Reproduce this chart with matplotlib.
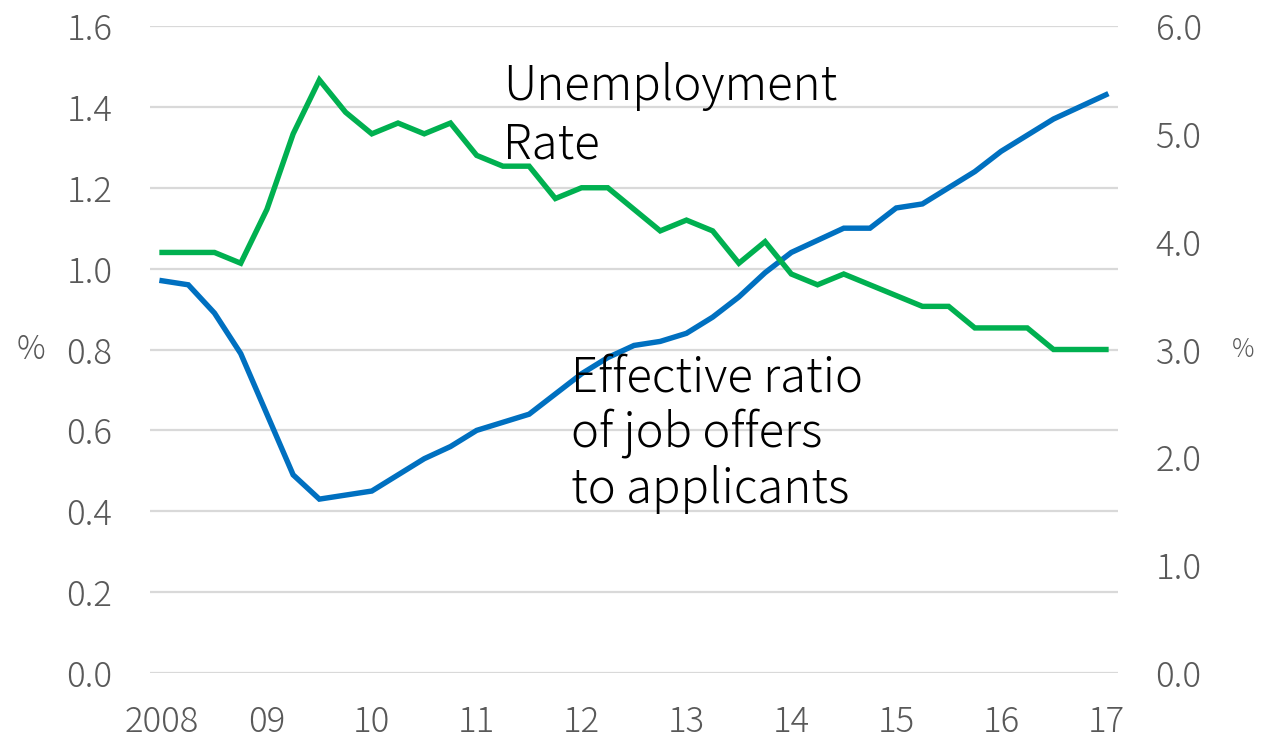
#!/usr/bin/env python3

import matplotlib
matplotlib.use('Agg')
import matplotlib.pyplot as plt
import numpy as np

plt.rcParams['font.family'] = ['Noto Sans CJK JP', 'DejaVu Sans']
plt.rcParams['font.weight'] = 'light'

# quarterly, 2008Q1 .. 2017Q1
job_ratio = [0.97, 0.96, 0.89, 0.79, 0.64, 0.49, 0.43, 0.44, 0.45, 0.49,
             0.53, 0.56, 0.60, 0.62, 0.64, 0.69, 0.74, 0.78, 0.81, 0.82,
             0.84, 0.88, 0.93, 0.99, 1.04, 1.07, 1.10, 1.10, 1.15, 1.16,
             1.20, 1.24, 1.29, 1.33, 1.37, 1.40, 1.43]
unemp_rate = [3.9, 3.9, 3.9, 3.8, 4.3, 5.0, 5.5, 5.2, 5.0, 5.1,
              5.0, 5.1, 4.8, 4.7, 4.7, 4.4, 4.5, 4.5, 4.3, 4.1,
              4.2, 4.1, 3.8, 4.0, 3.7, 3.6, 3.7, 3.6, 3.5, 3.4,
              3.4, 3.2, 3.2, 3.2, 3.0, 3.0, 3.0]
year_labels = ['2008', '09', '10', '11', '12', '13', '14', '15', '16', '17']

grey = '#595959'
blue = '#0070c0'
green = '#00b050'

x = np.arange(len(job_ratio))

fig = plt.figure(figsize=(12.81, 7.41), dpi=100)
ax = fig.add_axes([150/1281, 1-673/741, 968/1281, 647/741])
ax2 = ax.twinx()

ax.plot(x, job_ratio, color=blue, lw=3.9, solid_joinstyle='miter')
ax2.plot(x, unemp_rate, color=green, lw=3.9, solid_joinstyle='miter')

ax.set_xlim(-0.46, 36.46)
ax.set_ylim(0, 1.6)
ax2.set_ylim(0, 6.0)

ax.set_yticks(np.arange(0, 1.61, 0.2))
ax.set_yticklabels([f'{v:.1f}' for v in np.arange(0, 1.61, 0.2)])
ax2.set_yticks(np.arange(0, 6.1, 1.0))
ax2.set_yticklabels([f'{v:.1f}' for v in np.arange(0, 6.1, 1.0)])
ax.set_xticks(np.arange(0, 37, 4))
ax.set_xticklabels(year_labels)

ax.grid(axis='y', color='#d9d9d9', lw=1.6)
ax.set_axisbelow(True)
for a in (ax, ax2):
    for s in a.spines.values():
        s.set_visible(False)
ax.tick_params(axis='y', length=0, pad=27, labelsize=25, labelcolor=grey)
ax2.tick_params(axis='y', length=0, pad=27, labelsize=25, labelcolor=grey)
ax.tick_params(axis='x', length=0, pad=22, labelsize=25, labelcolor=grey)

fig.text(31/1281, 1-350/741, '%', fontsize=23, color=grey, ha='center', va='center')
fig.text(1243/1281, 1-350/741, '%', fontsize=18, color=grey, ha='center', va='center')

tkw = dict(transform=ax.transData, fontsize=34, color='black', va='baseline', ha='left', zorder=5)
ax2.text(13.0, 1.417, 'Unemployment', **tkw)
ax2.text(13.0, 1.273, 'Rate', **tkw)
ax2.text(15.6, 0.695, 'Effective ratio', **tkw)
ax2.text(15.6, 0.560, 'of job offers', **tkw)
ax2.text(15.6, 0.421, 'to applicants', **tkw)

fig.savefig('out.png', dpi=100)
